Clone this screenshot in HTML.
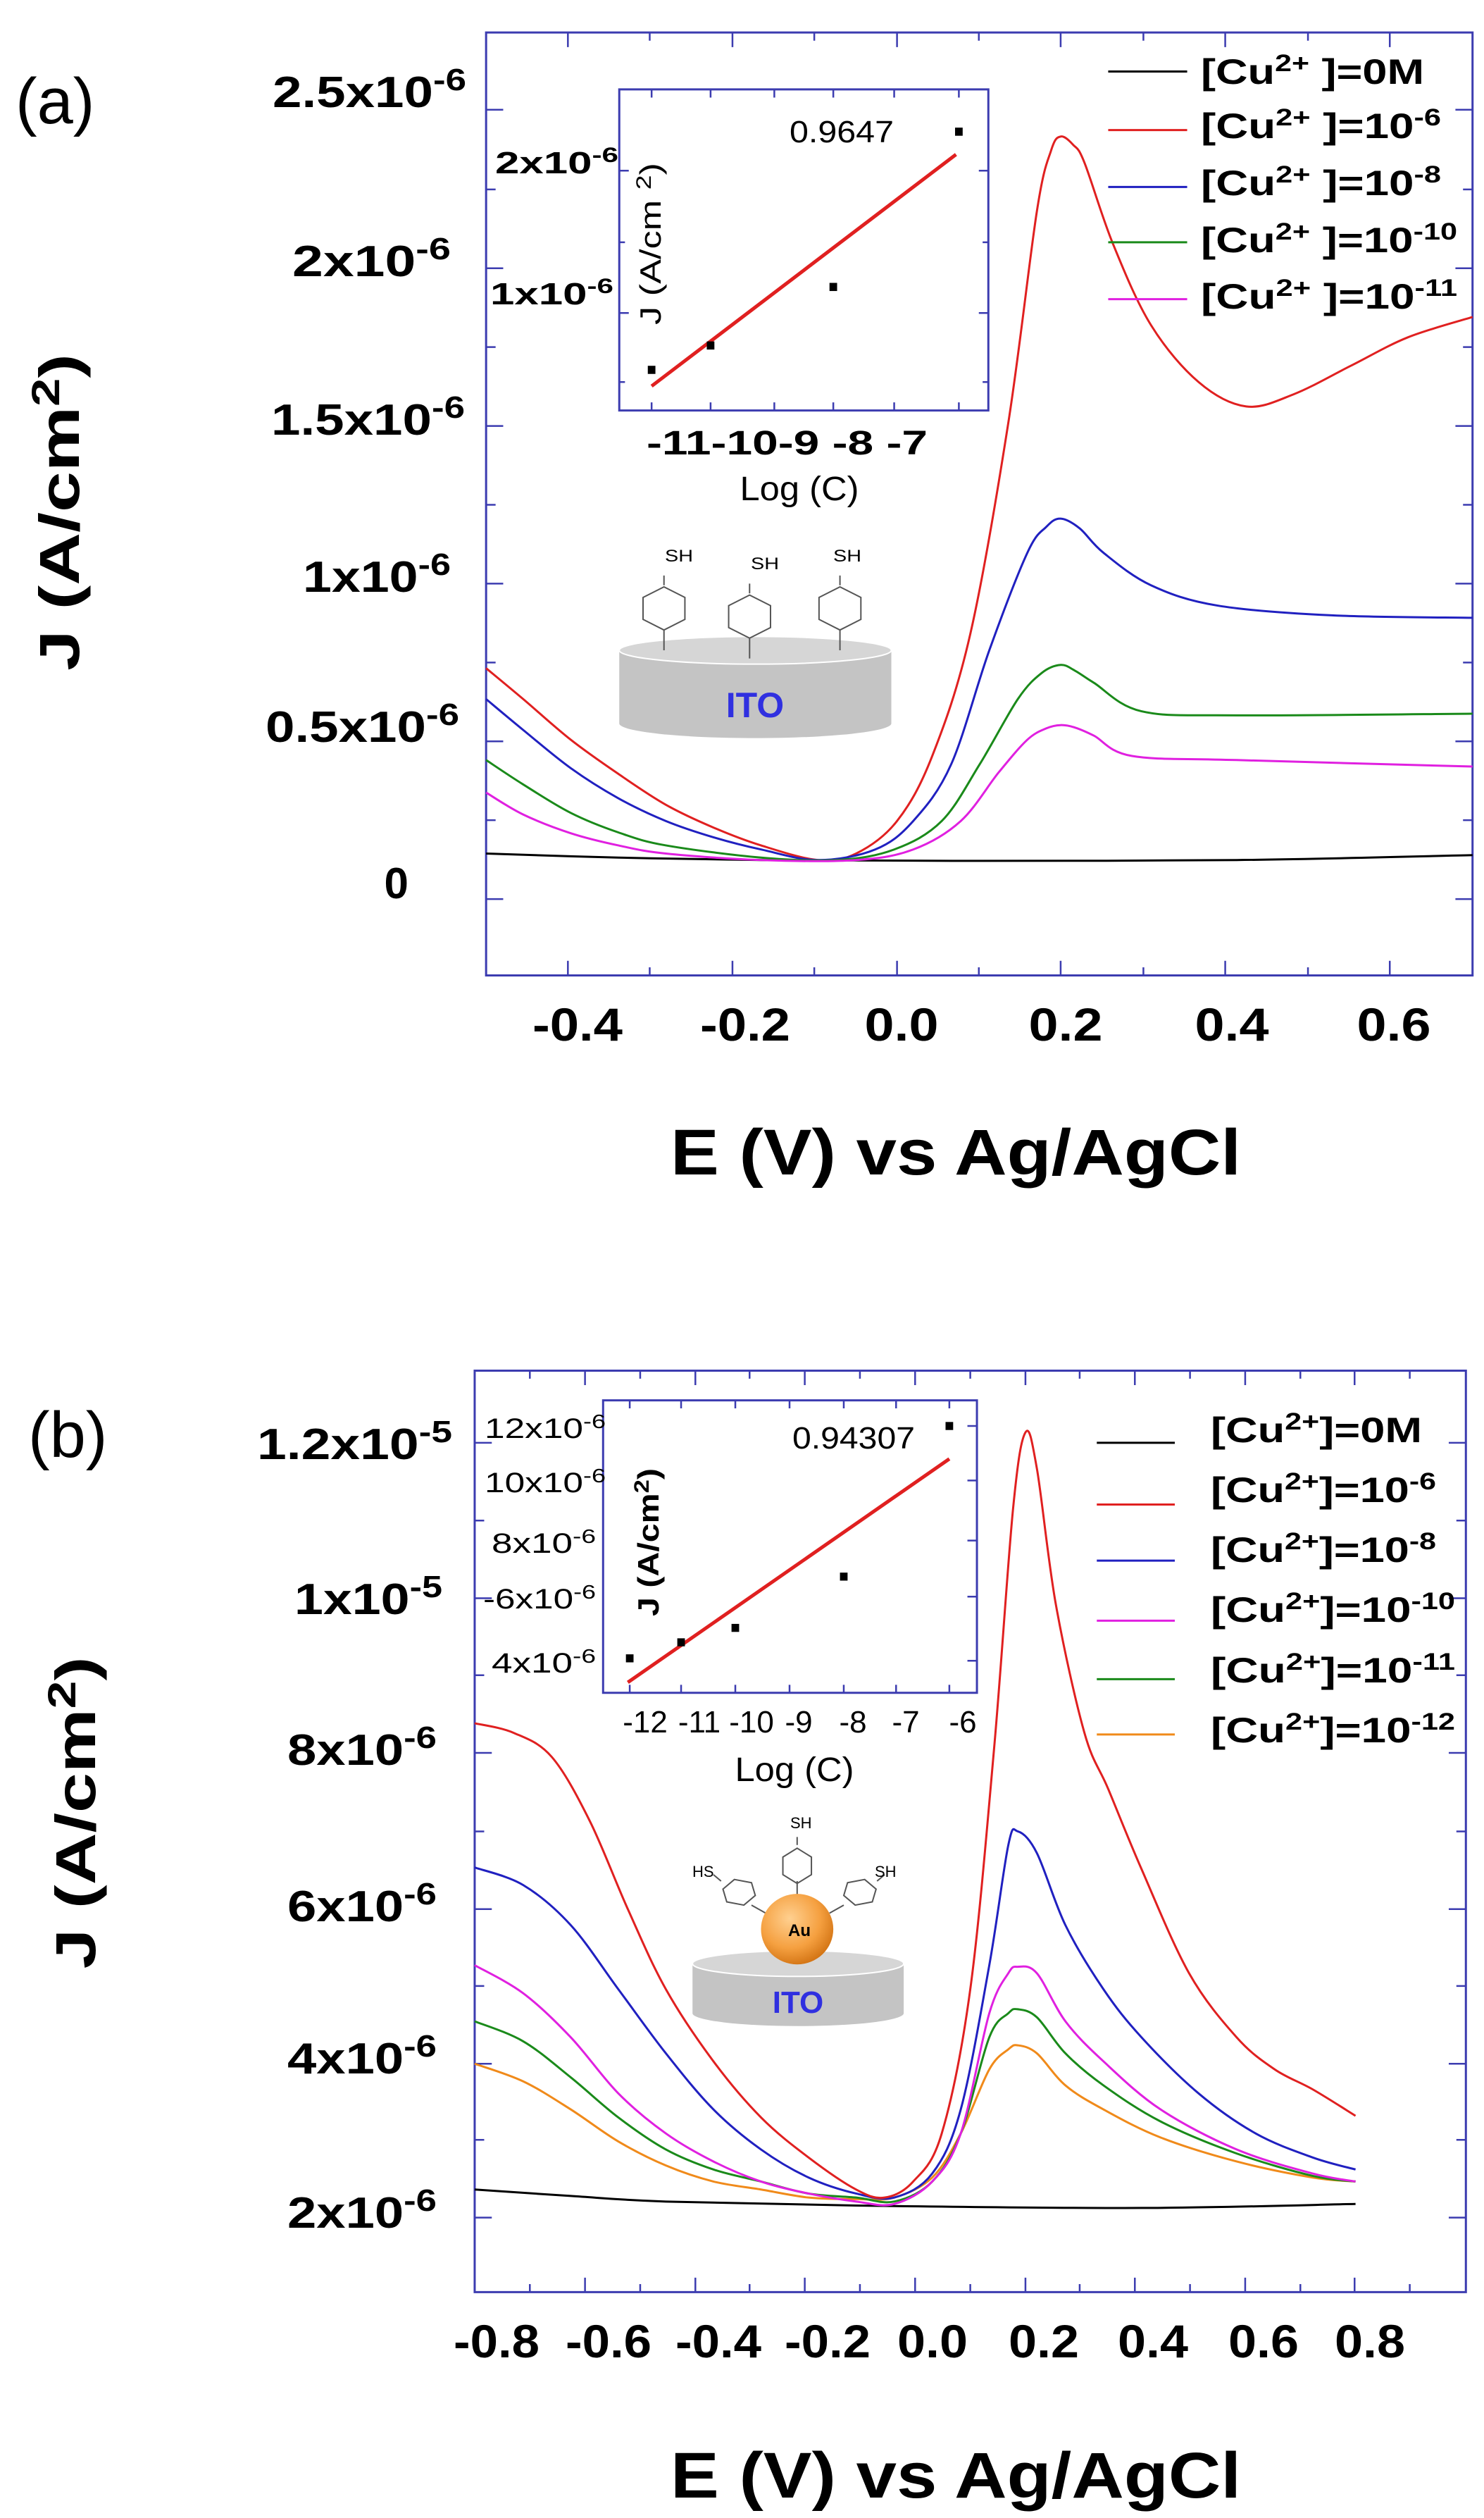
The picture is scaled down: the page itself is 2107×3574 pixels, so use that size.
<!DOCTYPE html>
<html><head><meta charset="utf-8"><style>
html,body{margin:0;padding:0;background:#fff}
svg{display:block}
text{font-family:"Liberation Sans",Arial,sans-serif}
.b{font-weight:bold}
.c{fill:none;stroke-width:3;vector-effect:non-scaling-stroke;stroke-linejoin:round}
.ax{fill:none;stroke:#3c3cb0;stroke-width:3;vector-effect:non-scaling-stroke}
.tk{fill:none;stroke:#3c3cb0;stroke-width:2.5;vector-effect:non-scaling-stroke}
</style></head><body>
<svg id="s" width="2107" height="3574" viewBox="0 0 2107 3574" xmlns="http://www.w3.org/2000/svg">
<!-- ================= PANEL A ================= -->
<g transform="scale(1.3506,1.1538)">
<rect class="ax" x="511" y="40" width="1037" height="1160"/>
<path class="tk" d="M597 1200v-18M770 1200v-18M943 1200v-18M1115 1200v-18M1288 1200v-18M1461 1200v-18M683 1200v-10M856 1200v-10M1029 1200v-10M1202 1200v-10M1375 1200v-10
M597 40v18M770 40v18M943 40v18M1115 40v18M1288 40v18M1461 40v18M683 40v10M856 40v10M1029 40v10M1202 40v10M1375 40v10
M511 1106h18M511 912h18M511 718h18M511 524h18M511 330h18M511 135h18M511 1009h10M511 815h10M511 621h10M511 427h10M511 233h10
M1548 1106h-18M1548 912h-18M1548 718h-18M1548 524h-18M1548 330h-18M1548 135h-18M1548 1009h-10M1548 815h-10M1548 621h-10M1548 427h-10M1548 233h-10"/>
<polyline class="c" stroke="#000" points="511,1050 650,1055 800,1058 1000,1059 1300,1058 1548,1052"/>
<polyline class="c" stroke="#e02020" points="511,822 550,860 600,910 650,952 700,990 750,1018 800,1040 860,1058 900,1050 943,1010 980,930 1020,780 1060,520 1090,260 1105,185 1115,168 1128,178 1140,200 1170,300 1210,400 1260,470 1310,500 1360,485 1420,450 1480,415 1548,390"/>
<polyline class="c" stroke="#2020c0" points="511,860 550,898 600,945 650,982 700,1010 750,1030 800,1045 860,1058 920,1045 960,1010 1000,940 1040,800 1080,680 1100,648 1115,638 1135,650 1160,680 1210,720 1280,745 1400,757 1548,760"/>
<polyline class="c" stroke="#1a8a1a" points="511,935 550,965 600,1000 650,1024 700,1040 800,1055 880,1058 940,1045 990,1010 1030,940 1070,860 1095,828 1115,818 1130,825 1150,840 1200,875 1300,880 1548,878"/>
<polyline class="c" stroke="#e020e0" points="511,975 550,1002 600,1025 650,1040 700,1050 800,1058 900,1058 960,1045 1010,1010 1050,950 1080,910 1100,896 1115,892 1130,895 1150,905 1190,930 1300,935 1548,943"/>
<path class="c" stroke="#000" d="M1165 88h83"/>
<path class="c" stroke="#e02020" d="M1165 160h83"/>
<path class="c" stroke="#2020c0" d="M1165 230h83"/>
<path class="c" stroke="#1a8a1a" d="M1165 298h83"/>
<path class="c" stroke="#e020e0" d="M1165 368h83"/>
<rect class="ax" x="651" y="110" width="388" height="395" fill="#fff"/>
<path class="tk" d="M685 505v-10M747 505v-10M814 505v-10M876 505v-10M940 505v-10M1008 505v-10M685 110v10M747 110v10M814 110v10M876 110v10M940 110v10M1008 110v10M651 210h10M651 385h10M1039 210h-10M1039 385h-10M651 298h6M651 470h6M1039 298h-6M1039 470h-6"/>
<path class="c" stroke="#e02020" style="stroke-width:5" d="M685 475L1005 190"/>
<rect x="681" y="450" width="8" height="10" fill="#000"/>
<rect x="743" y="420" width="8" height="10" fill="#000"/>
<rect x="872" y="348" width="8" height="10" fill="#000"/>
<rect x="1004" y="157" width="8" height="10" fill="#000"/>
<path d="M651 800v90a143 18 0 0 0 286 0v-90z" fill="#c4c4c4"/>
<ellipse cx="794" cy="800" rx="143" ry="17" fill="#d6d6d6" stroke="#fff" stroke-width="2" vector-effect="non-scaling-stroke"/>
<g fill="none" stroke="#555" stroke-width="2">
<path vector-effect="non-scaling-stroke" d="M698 800v-25M698 720v-12M676 735l22-13l22 13v27l-22 13l-22-13z"/>
<path vector-effect="non-scaling-stroke" d="M788 810v-25M788 730v-12M766 745l22-13l22 13v27l-22 13l-22-13z"/>
<path vector-effect="non-scaling-stroke" d="M883 800v-25M883 720v-12M861 735l22-13l22 13v27l-22 13l-22-13z"/>
</g>
</g>
<text x="22" y="175" font-size="92">(a)</text>
<g class="b" font-size="62" text-anchor="end">
<text x="662" y="152" textLength="275" lengthAdjust="spacingAndGlyphs">2.5x10<tspan dy="-24" font-size="44">-6</tspan></text>
<text x="640" y="392" textLength="225" lengthAdjust="spacingAndGlyphs">2x10<tspan dy="-24" font-size="44">-6</tspan></text>
<text x="660" y="617" textLength="275" lengthAdjust="spacingAndGlyphs">1.5x10<tspan dy="-24" font-size="44">-6</tspan></text>
<text x="640" y="840" textLength="210" lengthAdjust="spacingAndGlyphs">1x10<tspan dy="-24" font-size="44">-6</tspan></text>
<text x="652" y="1053" textLength="275" lengthAdjust="spacingAndGlyphs">0.5x10<tspan dy="-24" font-size="44">-6</tspan></text>
<text x="580" y="1275">0</text>
</g>
<g class="b" font-size="66" text-anchor="middle">
<text x="820" y="1477" textLength="128" lengthAdjust="spacingAndGlyphs">-0.4</text>
<text x="1058" y="1477" textLength="128" lengthAdjust="spacingAndGlyphs">-0.2</text>
<text x="1280" y="1477" textLength="105" lengthAdjust="spacingAndGlyphs">0.0</text>
<text x="1513" y="1477" textLength="105" lengthAdjust="spacingAndGlyphs">0.2</text>
<text x="1749" y="1477" textLength="105" lengthAdjust="spacingAndGlyphs">0.4</text>
<text x="1979" y="1477" textLength="105" lengthAdjust="spacingAndGlyphs">0.6</text>
</g>
<text class="b" x="1357" y="1667" font-size="92" text-anchor="middle" textLength="810" lengthAdjust="spacingAndGlyphs">E (V) vs Ag/AgCl</text>
<text class="b" transform="translate(112,727) rotate(-90)" font-size="80" text-anchor="middle" textLength="450" lengthAdjust="spacingAndGlyphs">J (A/cm<tspan dy="-28" font-size="56">2</tspan><tspan dy="28">)</tspan></text>
<g class="b" font-size="50">
<text x="1705" y="119" textLength="317" lengthAdjust="spacingAndGlyphs">[Cu<tspan dy="-18" font-size="34">2+</tspan><tspan dy="18"> ]=0M</tspan></text>
<text x="1705" y="196" textLength="341" lengthAdjust="spacingAndGlyphs">[Cu<tspan dy="-18" font-size="34">2+</tspan><tspan dy="18"> ]=10</tspan><tspan dy="-18" font-size="34">-6</tspan></text>
<text x="1705" y="277" textLength="341" lengthAdjust="spacingAndGlyphs">[Cu<tspan dy="-18" font-size="34">2+</tspan><tspan dy="18"> ]=10</tspan><tspan dy="-18" font-size="34">-8</tspan></text>
<text x="1705" y="358" textLength="364" lengthAdjust="spacingAndGlyphs">[Cu<tspan dy="-18" font-size="34">2+</tspan><tspan dy="18"> ]=10</tspan><tspan dy="-18" font-size="34">-10</tspan></text>
<text x="1705" y="438" textLength="364" lengthAdjust="spacingAndGlyphs">[Cu<tspan dy="-18" font-size="34">2+</tspan><tspan dy="18"> ]=10</tspan><tspan dy="-18" font-size="34">-11</tspan></text>
</g>
<text x="1121" y="202" font-size="44" textLength="148" lengthAdjust="spacingAndGlyphs">0.9647</text>
<g class="b" font-size="44" text-anchor="end">
<text x="878" y="246" textLength="175" lengthAdjust="spacingAndGlyphs">2x10<tspan dy="-16" font-size="30">-6</tspan></text>
<text x="871" y="432" textLength="175" lengthAdjust="spacingAndGlyphs">1x10<tspan dy="-16" font-size="30">-6</tspan></text>
</g>
<text class="b" x="918" y="645" font-size="48" textLength="399" lengthAdjust="spacingAndGlyphs">-11-10-9 -8 -7</text>
<text x="1135" y="710" font-size="48" text-anchor="middle" textLength="169" lengthAdjust="spacingAndGlyphs">Log (C)</text>
<text transform="translate(938,346) rotate(-90)" font-size="42" text-anchor="middle" textLength="230" lengthAdjust="spacingAndGlyphs">J (A/cm <tspan dy="-14" font-size="30">2</tspan><tspan dy="14">)</tspan></text>
<text x="944" y="797" font-size="24" textLength="40" lengthAdjust="spacingAndGlyphs">SH</text>
<text x="1066" y="808" font-size="24" textLength="40" lengthAdjust="spacingAndGlyphs">SH</text>
<text x="1183" y="797" font-size="24" textLength="40" lengthAdjust="spacingAndGlyphs">SH</text>
<text class="b" x="1072" y="1018" font-size="50" fill="#3030e0" text-anchor="middle">ITO</text>

<!-- ================= PANEL B ================= -->
<g transform="translate(0,1800) scale(1.3506,1.1372)">
<rect class="ax" x="499" y="128" width="1042" height="1150"/>
<path class="tk" d="M615 1278v-18M731 1278v-18M846 1278v-18M962 1278v-18M1078 1278v-18M1193 1278v-18M1309 1278v-18M1424 1278v-18M557 1278v-10M673 1278v-10M788 1278v-10M904 1278v-10M1020 1278v-10M1135 1278v-10M1251 1278v-10M1367 1278v-10M1482 1278v-10
M615 128v18M731 128v18M846 128v18M962 128v18M1078 128v18M1193 128v18M1309 128v18M1424 128v18M557 128v10M673 128v10M788 128v10M904 128v10M1020 128v10M1135 128v10M1251 128v10M1367 128v10M1482 128v10
M499 1185h18M499 993h18M499 800h18M499 605h18M499 412h18M499 218h18M499 1088h10M499 896h10M499 703h10M499 508h10M499 315h10
M1541 1185h-18M1541 993h-18M1541 800h-18M1541 605h-18M1541 412h-18M1541 218h-18M1541 1088h-10M1541 896h-10M1541 703h-10M1541 508h-10M1541 315h-10"/>
<polyline class="c" stroke="#000" points="499,1150 600,1158 700,1165 900,1170 1200,1173 1425,1168"/>
<polyline class="c" stroke="#f08a1a" points="499,993 550,1015 600,1050 650,1090 700,1120 750,1140 800,1150 850,1160 900,1162 940,1160 980,1135 1010,1080 1040,1000 1060,975 1070,970 1090,980 1120,1020 1160,1050 1220,1085 1300,1115 1380,1135 1425,1140"/>
<polyline class="c" stroke="#1a8a1a" points="499,940 550,965 600,1010 650,1060 700,1100 750,1125 800,1140 850,1155 900,1160 940,1165 980,1140 1010,1080 1040,960 1060,930 1070,925 1090,935 1120,980 1160,1020 1220,1065 1300,1105 1380,1133 1425,1140"/>
<polyline class="c" stroke="#e020e0" points="499,870 550,905 600,960 650,1030 700,1080 750,1115 800,1140 850,1155 900,1165 940,1168 980,1140 1010,1080 1040,930 1060,880 1070,872 1090,880 1120,940 1160,990 1220,1050 1300,1100 1380,1130 1425,1140"/>
<polyline class="c" stroke="#2020c0" points="499,748 550,770 600,820 650,900 700,980 750,1050 800,1100 850,1135 900,1155 940,1160 980,1130 1010,1050 1040,870 1060,720 1070,703 1090,730 1120,820 1160,900 1200,960 1260,1030 1320,1080 1380,1110 1425,1125"/>
<polyline class="c" stroke="#e02020" points="499,568 540,580 580,610 620,690 660,800 700,900 750,990 800,1060 850,1110 900,1150 930,1160 960,1140 990,1080 1020,900 1045,600 1065,300 1078,205 1090,250 1110,420 1140,580 1165,650 1200,750 1250,880 1300,960 1340,1000 1380,1025 1425,1058"/>
<path class="c" stroke="#000" d="M1153 218h82"/>
<path class="c" stroke="#e02020" d="M1153 295h82"/>
<path class="c" stroke="#2020c0" d="M1153 365h82"/>
<path class="c" stroke="#e020e0" d="M1153 440h82"/>
<path class="c" stroke="#1a8a1a" d="M1153 513h82"/>
<path class="c" stroke="#f08a1a" d="M1153 582h82"/>
<rect class="ax" x="634" y="165" width="393" height="365" fill="#fff"/>
<path class="tk" d="M662 530v-10M716 530v-10M773 530v-10M830 530v-10M887 530v-10M942 530v-10M998 530v-10M662 165v10M716 165v10M773 165v10M830 165v10M887 165v10M942 165v10M998 165v10M1027 197h-10M1027 265h-10M1027 340h-10M1027 410h-10M1027 490h-10"/>
<path class="c" stroke="#e02020" style="stroke-width:5" d="M660 517L998 238"/>
<rect x="658" y="482" width="8" height="10" fill="#000"/>
<rect x="712" y="462" width="8" height="10" fill="#000"/>
<rect x="769" y="444" width="8" height="10" fill="#000"/>
<rect x="883" y="380" width="8" height="10" fill="#000"/>
<rect x="994" y="192" width="8" height="10" fill="#000"/>
<path d="M728 868v62a111 16 0 0 0 222 0v-62z" fill="#c4c4c4"/>
<ellipse cx="839" cy="868" rx="111" ry="16" fill="#d6d6d6" stroke="#fff" stroke-width="2" vector-effect="non-scaling-stroke"/>
<defs><radialGradient id="au" cx="0.4" cy="0.35" r="0.7"><stop offset="0" stop-color="#ffd090"/><stop offset="0.6" stop-color="#f5a040"/><stop offset="1" stop-color="#d07010"/></radialGradient></defs>
<g fill="none" stroke="#555" stroke-width="2">
<path vector-effect="non-scaling-stroke" d="M838 785v-20M838 720v-10M823 735l15-11l15 11v22l-15 11l-15-11z"/>
<path vector-effect="non-scaling-stroke" d="M805 805l-15-10M758 765l-8-8M760 775l12-12l18 4l4 16l-12 12l-18-4z"/>
<path vector-effect="non-scaling-stroke" d="M872 805l15-10M922 765l8-8M887 783l4-16l18-4l12 12l-4 16l-18 4z"/>
</g>
<ellipse cx="838" cy="825" rx="38" ry="44" fill="url(#au)"/>
</g>
<text x="40" y="2068" font-size="92">(b)</text>
<g class="b" font-size="62" text-anchor="end">
<text x="642" y="2071" textLength="277" lengthAdjust="spacingAndGlyphs">1.2x10<tspan dy="-24" font-size="44">-5</tspan></text>
<text x="628" y="2291" textLength="210" lengthAdjust="spacingAndGlyphs">1x10<tspan dy="-24" font-size="44">-5</tspan></text>
<text x="620" y="2505" textLength="212" lengthAdjust="spacingAndGlyphs">8x10<tspan dy="-24" font-size="44">-6</tspan></text>
<text x="620" y="2727" textLength="212" lengthAdjust="spacingAndGlyphs">6x10<tspan dy="-24" font-size="44">-6</tspan></text>
<text x="620" y="2943" textLength="212" lengthAdjust="spacingAndGlyphs">4x10<tspan dy="-24" font-size="44">-6</tspan></text>
<text x="620" y="3162" textLength="212" lengthAdjust="spacingAndGlyphs">2x10<tspan dy="-24" font-size="44">-6</tspan></text>
</g>
<g class="b" font-size="66" text-anchor="middle">
<text x="705" y="3346" textLength="122" lengthAdjust="spacingAndGlyphs">-0.8</text>
<text x="864" y="3346" textLength="122" lengthAdjust="spacingAndGlyphs">-0.6</text>
<text x="1020" y="3346" textLength="122" lengthAdjust="spacingAndGlyphs">-0.4</text>
<text x="1175" y="3346" textLength="122" lengthAdjust="spacingAndGlyphs">-0.2</text>
<text x="1324" y="3346" textLength="100" lengthAdjust="spacingAndGlyphs">0.0</text>
<text x="1482" y="3346" textLength="100" lengthAdjust="spacingAndGlyphs">0.2</text>
<text x="1637" y="3346" textLength="100" lengthAdjust="spacingAndGlyphs">0.4</text>
<text x="1794" y="3346" textLength="100" lengthAdjust="spacingAndGlyphs">0.6</text>
<text x="1945" y="3346" textLength="100" lengthAdjust="spacingAndGlyphs">0.8</text>
</g>
<text class="b" x="1357" y="3545" font-size="92" text-anchor="middle" textLength="810" lengthAdjust="spacingAndGlyphs">E (V) vs Ag/AgCl</text>
<text class="b" transform="translate(135,2573) rotate(-90)" font-size="80" text-anchor="middle" textLength="443" lengthAdjust="spacingAndGlyphs">J (A/cm<tspan dy="-28" font-size="56">2</tspan><tspan dy="28">)</tspan></text>
<g class="b" font-size="50">
<text x="1719" y="2047" textLength="300" lengthAdjust="spacingAndGlyphs">[Cu<tspan dy="-18" font-size="34">2+</tspan><tspan dy="18">]=0M</tspan></text>
<text x="1719" y="2132" textLength="320" lengthAdjust="spacingAndGlyphs">[Cu<tspan dy="-18" font-size="34">2+</tspan><tspan dy="18">]=10</tspan><tspan dy="-18" font-size="34">-6</tspan></text>
<text x="1719" y="2217" textLength="320" lengthAdjust="spacingAndGlyphs">[Cu<tspan dy="-18" font-size="34">2+</tspan><tspan dy="18">]=10</tspan><tspan dy="-18" font-size="34">-8</tspan></text>
<text x="1719" y="2302" textLength="347" lengthAdjust="spacingAndGlyphs">[Cu<tspan dy="-18" font-size="34">2+</tspan><tspan dy="18">]=10</tspan><tspan dy="-18" font-size="34">-10</tspan></text>
<text x="1719" y="2388" textLength="347" lengthAdjust="spacingAndGlyphs">[Cu<tspan dy="-18" font-size="34">2+</tspan><tspan dy="18">]=10</tspan><tspan dy="-18" font-size="34">-11</tspan></text>
<text x="1719" y="2473" textLength="347" lengthAdjust="spacingAndGlyphs">[Cu<tspan dy="-18" font-size="34">2+</tspan><tspan dy="18">]=10</tspan><tspan dy="-18" font-size="34">-12</tspan></text>
</g>
<text x="1125" y="2056" font-size="44" textLength="174" lengthAdjust="spacingAndGlyphs">0.94307</text>
<g font-size="40" text-anchor="end">
<text x="860" y="2041" textLength="172" lengthAdjust="spacingAndGlyphs">12x10<tspan dy="-14" font-size="28">-6</tspan></text>
<text x="860" y="2118" textLength="172" lengthAdjust="spacingAndGlyphs">10x10<tspan dy="-14" font-size="28">-6</tspan></text>
<text x="846" y="2204" textLength="148" lengthAdjust="spacingAndGlyphs">8x10<tspan dy="-14" font-size="28">-6</tspan></text>
<text x="846" y="2283" textLength="160" lengthAdjust="spacingAndGlyphs">-6x10<tspan dy="-14" font-size="28">-6</tspan></text>
<text x="846" y="2374" textLength="148" lengthAdjust="spacingAndGlyphs">4x10<tspan dy="-14" font-size="28">-6</tspan></text>
</g>
<g font-size="44" text-anchor="middle">
<text x="916" y="2459">-12</text><text x="993" y="2459">-11</text><text x="1067" y="2459">-10</text><text x="1134" y="2459">-9</text><text x="1211" y="2459">-8</text><text x="1286" y="2459">-7</text><text x="1367" y="2459">-6</text>
</g>
<text x="1128" y="2528" font-size="48" text-anchor="middle" textLength="169" lengthAdjust="spacingAndGlyphs">Log (C)</text>
<text class="b" transform="translate(935,2189) rotate(-90)" font-size="42" text-anchor="middle" textLength="210" lengthAdjust="spacingAndGlyphs">J (A/cm<tspan dy="-14" font-size="30">2</tspan><tspan dy="14">)</tspan></text>
<text x="1122" y="2595" font-size="22">SH</text>
<text x="983" y="2664" font-size="22">HS</text>
<text x="1242" y="2664" font-size="22">SH</text>
<text class="b" x="1119" y="2748" font-size="24">Au</text>
<text class="b" x="1133" y="2857" font-size="44" fill="#3030e0" text-anchor="middle">ITO</text>
</svg>
<script>
(function(){
var ns="http://www.w3.org/2000/svg";
document.querySelectorAll("polyline.c").forEach(function(pl){
 var p=pl.getAttribute("points").trim().split(/\s+/).map(function(s){return s.split(",").map(Number);});
 var d="M"+p[0][0]+" "+p[0][1];
 for(var i=0;i<p.length-1;i++){
  var p0=p[i-1]||p[i],p1=p[i],p2=p[i+1],p3=p[i+2]||p2;
  var c1x=p1[0]+(p2[0]-p0[0])/6,c1y=p1[1]+(p2[1]-p0[1])/6;
  var c2x=p2[0]-(p3[0]-p1[0])/6,c2y=p2[1]-(p3[1]-p1[1])/6;
  d+="C"+c1x+" "+c1y+" "+c2x+" "+c2y+" "+p2[0]+" "+p2[1];
 }
 var e=document.createElementNS(ns,"path");
 e.setAttribute("d",d);e.setAttribute("class","c");e.setAttribute("stroke",pl.getAttribute("stroke"));
 pl.parentNode.replaceChild(e,pl);
});
})();
</script>
</body></html>
